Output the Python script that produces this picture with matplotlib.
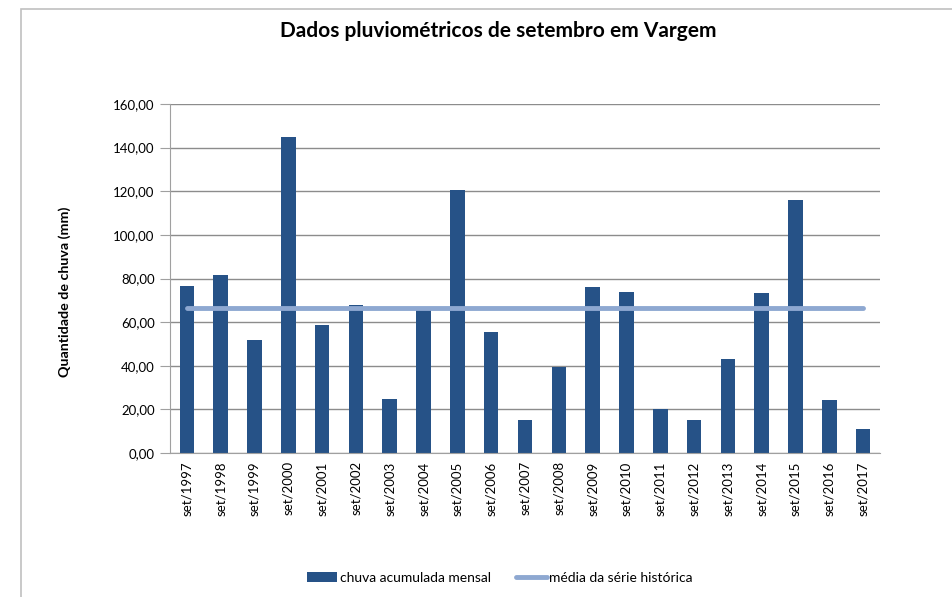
import matplotlib.pyplot as plt
from matplotlib.patches import Rectangle
from matplotlib.ticker import FuncFormatter

plt.rcParams['font.family'] = ['Lato', 'DejaVu Sans']

anos = [f"set/{a}" for a in range(1997, 2018)]
chuva = [76.7, 81.7, 51.9, 145.0, 58.8, 68.0, 24.9, 66.0, 120.7, 55.6, 15.3,
         39.3, 76.2, 74.0, 20.3, 15.3, 43.2, 73.5, 116.1, 24.4, 11.2]
media = [66.5] * len(anos)

fig = plt.figure(figsize=(9.52, 5.97), dpi=100)
ax = fig.add_axes([170 / 952, 1 - 453 / 597, 710 / 952, 349 / 597])

x = list(range(len(anos)))
barras = ax.bar(x, chuva, width=0.43, color='#265287', label='chuva acumulada mensal', zorder=2)
linha, = ax.plot(x, media, color='#8EA8D1', linewidth=3.5, solid_capstyle='round',
                 label='média da série histórica', zorder=3)

ax.set_xlim(-0.5, len(anos) - 0.5)
ax.set_ylim(0, 160)
ax.set_yticks(range(0, 161, 20))
ax.yaxis.set_major_formatter(FuncFormatter(lambda v, p: f"{v:.2f}".replace('.', ',')))
ax.set_xticks(x)
ax.set_xticklabels(anos, rotation=90, fontsize=9.5)
ax.tick_params(axis='y', labelsize=9.5, length=7, color='#a0a0a0', pad=4)
ax.tick_params(axis='x', length=0, pad=6)
ax.grid(axis='y', color='#8c8c8c', linewidth=1, zorder=0)

for s in ['top', 'right']:
    ax.spines[s].set_visible(False)
for s in ['left', 'bottom']:
    ax.spines[s].set_color('#a0a0a0')

fig.text(65 / 952, 1 - 292 / 597, 'Quantidade de chuva (mm)', rotation=90,
         fontsize=10.3, fontweight='bold', ha='center', va='center')
fig.text(0.523, 1 - 31 / 597, 'Dados pluviométricos de setembro em Vargem',
         fontsize=15, fontweight='bold', ha='center', va='center')

fig.legend([barras, linha], ['chuva acumulada mensal', 'média da série histórica'],
           loc='center', bbox_to_anchor=(0.525, 1 - 578 / 597), ncol=2, frameon=False,
           fontsize=10, handlelength=2.2, handletextpad=0.2, columnspacing=1.8)

fig.patches.append(Rectangle((21 / 952, -0.05), 1.0, 1 - 9 / 597 + 0.05,
                             transform=fig.transFigure, fill=False,
                             edgecolor='#c0c0c0', linewidth=1.2))

fig.savefig('out.png', dpi=100)
